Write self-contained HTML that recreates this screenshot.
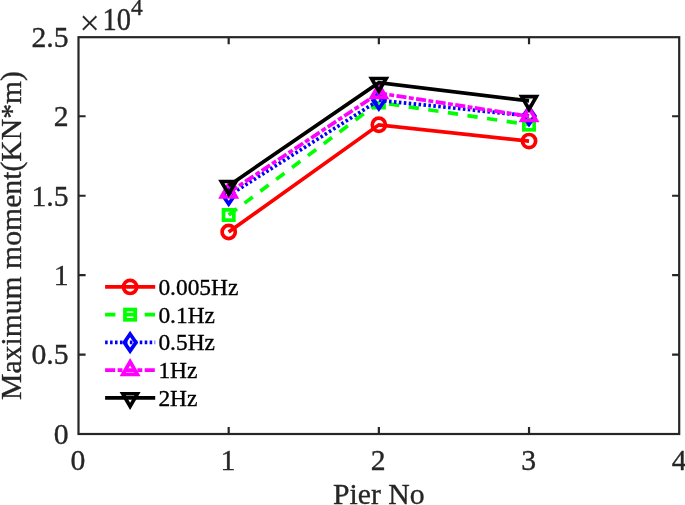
<!DOCTYPE html>
<html><head><meta charset="utf-8"><title>Pier moment plot</title>
<style>
html,body{margin:0;padding:0;background:#fff;}
body{width:685px;height:505px;overflow:hidden;}
svg{display:block;}
text{font-family:"Liberation Serif","Times New Roman",serif;fill:#262626;stroke:#262626;stroke-width:0.35px;}
.t{font-size:29.7px;}
.l{font-size:23.4px;fill:#000;stroke:#000;}
</style></head><body>
<svg width="685" height="505" viewBox="0 0 685 505">
<rect width="685" height="505" fill="#fff"/>
<polyline points="228.68,232.00 378.85,124.80 529.03,141.10" fill="none" stroke="#ff0000" stroke-width="3.7" stroke-linejoin="miter"/>
<circle cx="228.68" cy="232.00" r="6.6" stroke="#ff0000" stroke-width="3.7" fill="none" stroke-linejoin="miter"/>
<circle cx="378.85" cy="124.80" r="6.6" stroke="#ff0000" stroke-width="3.7" fill="none" stroke-linejoin="miter"/>
<circle cx="529.03" cy="141.10" r="6.6" stroke="#ff0000" stroke-width="3.7" fill="none" stroke-linejoin="miter"/>
<polyline points="228.68,215.00 378.85,102.50 529.03,124.65" fill="none" stroke="#00ff00" stroke-width="3.7" stroke-linejoin="miter" stroke-dasharray="10.3 9.5"/>
<rect x="223.53" y="209.85" width="10.3" height="10.3" stroke="#00ff00" stroke-width="3.7" fill="none" stroke-linejoin="miter"/>
<rect x="373.70" y="97.35" width="10.3" height="10.3" stroke="#00ff00" stroke-width="3.7" fill="none" stroke-linejoin="miter"/>
<rect x="523.88" y="119.50" width="10.3" height="10.3" stroke="#00ff00" stroke-width="3.7" fill="none" stroke-linejoin="miter"/>
<polyline points="228.68,195.60 378.85,100.25 529.03,115.90" fill="none" stroke="#0000ff" stroke-width="3.7" stroke-linejoin="miter" stroke-dasharray="2.55 2.4"/>
<path d="M228.68 187.15L234.48 195.60L228.68 204.05L222.88 195.60Z" stroke="#0000ff" stroke-width="3.7" fill="none" stroke-linejoin="miter"/>
<path d="M378.85 91.80L384.65 100.25L378.85 108.70L373.05 100.25Z" stroke="#0000ff" stroke-width="3.7" fill="none" stroke-linejoin="miter"/>
<path d="M529.03 107.45L534.83 115.90L529.03 124.35L523.23 115.90Z" stroke="#0000ff" stroke-width="3.7" fill="none" stroke-linejoin="miter"/>
<polyline points="228.68,192.60 378.85,93.10 529.03,116.30" fill="none" stroke="#ff00ff" stroke-width="3.7" stroke-linejoin="miter" stroke-dasharray="10.1 2.4 4.9 2.4"/>
<path d="M228.68 184.16L235.98 196.82L221.37 196.82Z" stroke="#ff00ff" stroke-width="3.7" fill="none" stroke-linejoin="miter"/>
<path d="M378.85 84.66L386.16 97.32L371.54 97.32Z" stroke="#ff00ff" stroke-width="3.7" fill="none" stroke-linejoin="miter"/>
<path d="M529.03 107.86L536.33 120.52L521.72 120.52Z" stroke="#ff00ff" stroke-width="3.7" fill="none" stroke-linejoin="miter"/>
<polyline points="228.68,185.70 378.85,82.70 529.03,100.90" fill="none" stroke="#000000" stroke-width="3.7" stroke-linejoin="miter"/>
<path d="M228.68 194.14L235.98 181.48L221.37 181.48Z" stroke="#000000" stroke-width="3.7" fill="none" stroke-linejoin="miter"/>
<path d="M378.85 91.14L386.16 78.48L371.54 78.48Z" stroke="#000000" stroke-width="3.7" fill="none" stroke-linejoin="miter"/>
<path d="M529.03 109.34L536.33 96.68L521.72 96.68Z" stroke="#000000" stroke-width="3.7" fill="none" stroke-linejoin="miter"/>
<rect x="78.5" y="37.2" width="600.7" height="396.8" fill="none" stroke="#262626" stroke-width="2.2"/>
<path d="M228.68 434.0V426.9M228.68 37.2V44.300000000000004M378.85 434.0V426.9M378.85 37.2V44.300000000000004M529.03 434.0V426.9M529.03 37.2V44.300000000000004M78.5 354.70H85.6M679.2 354.70H672.1M78.5 275.20H85.6M679.2 275.20H672.1M78.5 195.75H85.6M679.2 195.75H672.1M78.5 116.25H85.6M679.2 116.25H672.1" stroke="#262626" stroke-width="2.2" fill="none"/>
<text class="t" transform="translate(77.80 469.80)" text-anchor="middle">0</text>
<text class="t" transform="translate(227.88 469.80)" text-anchor="middle">1</text>
<text class="t" transform="translate(378.15 469.80)" text-anchor="middle">2</text>
<text class="t" transform="translate(528.63 469.80)" text-anchor="middle">3</text>
<text class="t" transform="translate(679.20 469.80)" text-anchor="middle">4</text>
<text class="t" transform="translate(68.60 443.80)" text-anchor="end">0</text>
<text class="t" transform="translate(68.60 364.44)" text-anchor="end">0.5</text>
<text class="t" transform="translate(68.60 285.08)" text-anchor="end">1</text>
<text class="t" transform="translate(68.60 205.72)" text-anchor="end">1.5</text>
<text class="t" transform="translate(68.60 126.36)" text-anchor="end">2</text>
<text class="t" transform="translate(68.60 47.00)" text-anchor="end">2.5</text>
<text class="t" transform="translate(79.40 35.20)" text-anchor="start" style="font-size:36px;stroke-width:0.1px">×</text>
<text class="t" transform="translate(102.40 30.20) scale(0.96 1.035)" text-anchor="start">10</text>
<text class="t" transform="translate(131.00 15.00)" text-anchor="start" style="font-size:23.5px">4</text>
<text class="t" transform="translate(378.85 503.60)" text-anchor="middle">Pier No</text>
<text class="t" transform="translate(20.60 235.50) rotate(-90)" text-anchor="middle">Maximum moment(KN*m)</text>
<line x1="105.1" y1="286.9" x2="155.2" y2="286.9" stroke="#ff0000" stroke-width="3.7"/>
<circle cx="130.10" cy="286.90" r="6.6" stroke="#ff0000" stroke-width="3.7" fill="none" stroke-linejoin="miter"/>
<text class="l" transform="translate(158.40 294.80)" text-anchor="start">0.005Hz</text>
<line x1="105.1" y1="314.67" x2="155.2" y2="314.67" stroke="#00ff00" stroke-width="3.7" stroke-dasharray="10.3 9.5"/>
<rect x="124.95" y="309.52" width="10.3" height="10.3" stroke="#00ff00" stroke-width="3.7" fill="none" stroke-linejoin="miter"/>
<text class="l" transform="translate(158.40 322.57)" text-anchor="start">0.1Hz</text>
<line x1="105.1" y1="342.43" x2="155.2" y2="342.43" stroke="#0000ff" stroke-width="3.7" stroke-dasharray="2.55 2.4"/>
<path d="M130.10 333.98L135.90 342.43L130.10 350.88L124.30 342.43Z" stroke="#0000ff" stroke-width="3.7" fill="none" stroke-linejoin="miter"/>
<text class="l" transform="translate(158.40 350.33)" text-anchor="start">0.5Hz</text>
<line x1="105.1" y1="370.2" x2="155.2" y2="370.2" stroke="#ff00ff" stroke-width="3.7" stroke-dasharray="10.1 2.4 4.9 2.4"/>
<path d="M130.10 361.76L137.41 374.42L122.79 374.42Z" stroke="#ff00ff" stroke-width="3.7" fill="none" stroke-linejoin="miter"/>
<text class="l" transform="translate(158.40 378.10)" text-anchor="start">1Hz</text>
<line x1="105.1" y1="397.97" x2="155.2" y2="397.97" stroke="#000000" stroke-width="3.7"/>
<path d="M130.10 406.41L137.41 393.75L122.79 393.75Z" stroke="#000000" stroke-width="3.7" fill="none" stroke-linejoin="miter"/>
<text class="l" transform="translate(158.40 405.87)" text-anchor="start">2Hz</text>
</svg></body></html>
